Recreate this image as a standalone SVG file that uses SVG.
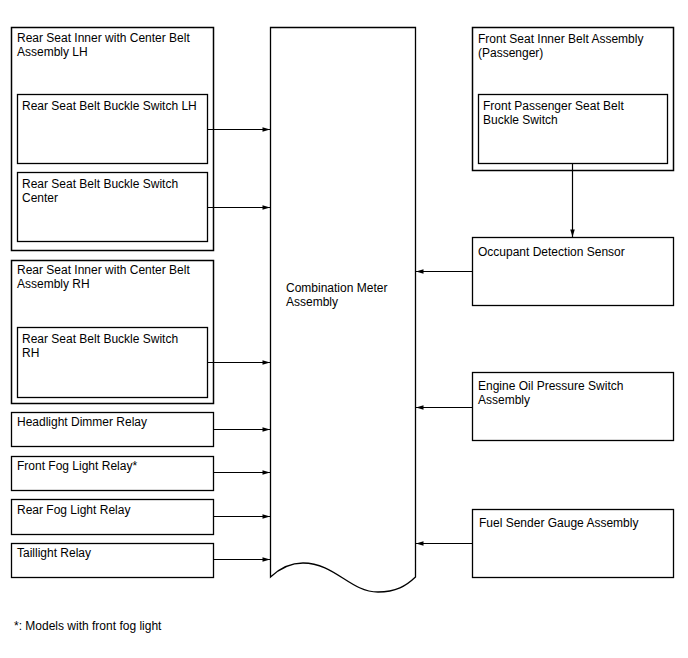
<svg xmlns="http://www.w3.org/2000/svg" width="688" height="658" viewBox="0 0 688 658">
<style>
.b{fill:#fff;stroke:#000;stroke-width:1.3}
.o{fill:#fff;stroke:#000;stroke-width:1.5}
.t{font-family:"Liberation Sans",Arial,sans-serif;font-size:12px;fill:#000}
.c{stroke:#000;stroke-width:1.2;fill:none;marker-end:url(#a)}
</style>
<defs>
<marker id="a" viewBox="0 0 10 6" refX="10" refY="3" markerWidth="8" markerHeight="4.5" markerUnits="userSpaceOnUse" orient="auto"><path d="M0,0L10,3L0,6z" fill="#000"/></marker>
</defs>
<rect width="688" height="658" fill="#fff"/>
<g id="rear-lh-assy">
<rect class="o" x="11.5" y="27.5" width="202" height="223"/>
<text class="t" x="17" y="42">Rear Seat Inner with Center Belt</text>
<text class="t" x="17" y="56">Assembly LH</text>
</g>
<g id="rear-lh-switch">
<rect class="b" x="17.5" y="94.5" width="190" height="69"/>
<text class="t" x="22" y="110">Rear Seat Belt Buckle Switch LH</text>
</g>
<g id="rear-center-switch">
<rect class="b" x="17.5" y="172.5" width="190" height="69"/>
<text class="t" x="22" y="188">Rear Seat Belt Buckle Switch</text>
<text class="t" x="22" y="202">Center</text>
</g>
<g id="rear-rh-assy">
<rect class="o" x="11.5" y="260.5" width="202" height="143"/>
<text class="t" x="17" y="274">Rear Seat Inner with Center Belt</text>
<text class="t" x="17" y="288">Assembly RH</text>
</g>
<g id="rear-rh-switch">
<rect class="b" x="17.5" y="327.5" width="190" height="70"/>
<text class="t" x="22" y="343">Rear Seat Belt Buckle Switch</text>
<text class="t" x="22" y="357">RH</text>
</g>
<g id="headlight-dimmer">
<rect class="b" x="11.5" y="412.5" width="202" height="34"/>
<text class="t" x="17" y="426">Headlight Dimmer Relay</text>
</g>
<g id="front-fog">
<rect class="b" x="11.5" y="456.5" width="202" height="34"/>
<text class="t" x="17" y="470">Front Fog Light Relay*</text>
</g>
<g id="rear-fog">
<rect class="b" x="11.5" y="499.5" width="202" height="35"/>
<text class="t" x="17" y="514">Rear Fog Light Relay</text>
</g>
<g id="taillight">
<rect class="b" x="11.5" y="543.5" width="202" height="34"/>
<text class="t" x="17" y="557">Taillight Relay</text>
</g>
<g id="combination-meter">
<path class="b" d="M270.5,27.5H415.5V577C406,586 396,592 378,592C350,592 335,563 303,563C289,563 278,570 270.5,577Z"/>
<text class="t" x="286" y="292">Combination Meter</text>
<text class="t" x="286" y="306">Assembly</text>
</g>
<g id="front-seat-assy">
<rect class="o" x="472.5" y="27.5" width="201" height="143"/>
<text class="t" x="478" y="43">Front Seat Inner Belt Assembly</text>
<text class="t" x="478" y="57">(Passenger)</text>
</g>
<g id="front-passenger-switch">
<rect class="b" x="478.5" y="94.5" width="189" height="69"/>
<text class="t" x="483" y="110">Front Passenger Seat Belt</text>
<text class="t" x="483" y="124">Buckle Switch</text>
</g>
<g id="occupant-sensor">
<rect class="b" x="472.5" y="237.5" width="201" height="68"/>
<text class="t" x="478" y="256">Occupant Detection Sensor</text>
</g>
<g id="engine-oil">
<rect class="b" x="472.5" y="372.5" width="201" height="68"/>
<text class="t" x="478" y="390">Engine Oil Pressure Switch</text>
<text class="t" x="478" y="404">Assembly</text>
</g>
<g id="fuel-sender">
<rect class="b" x="472.5" y="509.5" width="201" height="68"/>
<text class="t" x="479" y="527">Fuel Sender Gauge Assembly</text>
</g>
<g id="connectors">
<path class="c" d="M207.5,129.5H270"/>
<path class="c" d="M207.5,207.5H270"/>
<path class="c" d="M207.5,362.5H270"/>
<path class="c" d="M213.5,429.5H270"/>
<path class="c" d="M213.5,472.5H270"/>
<path class="c" d="M213.5,516.5H270"/>
<path class="c" d="M213.5,559.5H270"/>
<path class="c" d="M572.5,163.5V237"/>
<path class="c" d="M472.5,271.5H416"/>
<path class="c" d="M472.5,407.5H416"/>
<path class="c" d="M472.5,543.5H416"/>
</g>
<text class="t" x="14" y="630">*: Models with front fog light</text>
</svg>
